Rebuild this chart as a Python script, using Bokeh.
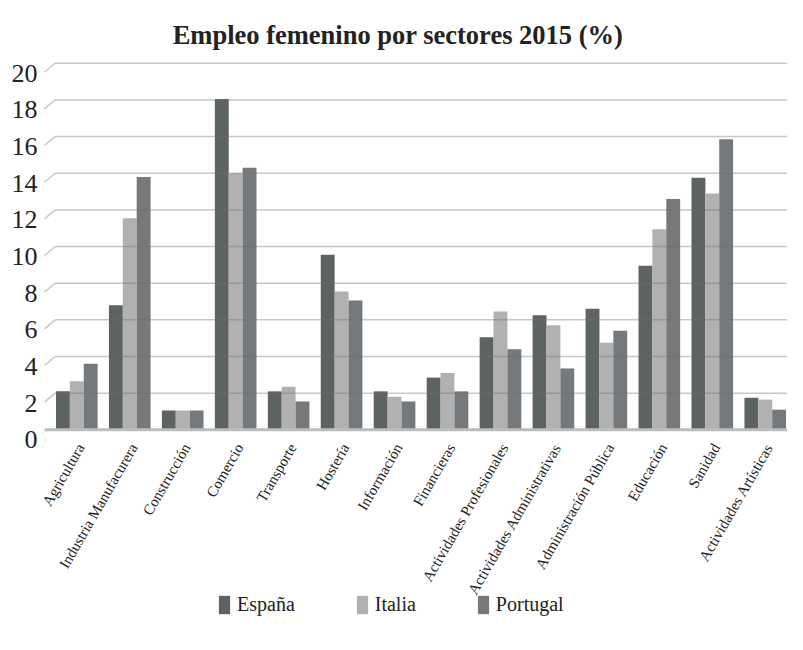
import numpy as np
from math import pi
from bokeh.plotting import figure
from bokeh.models import ColumnDataSource, Range1d, Legend, LegendItem
from bokeh.core.properties import value
from bokeh.transform import dodge
from bokeh.embed import file_html
from bokeh.resources import INLINE

sectores = ["Agricultura", "Industria Manufacurera", "Construcción", "Comercio",
            "Transporte", "Hostería", "Información", "Financieras",
            "Actividades Profesionales", "Actividades Administrativas",
            "Administración Pública", "Educación", "Sanidad", "Actividades Artísticas"]
espana = [2.1, 6.8, 1.05, 18.05, 2.1, 9.55, 2.1, 2.85, 5.05, 6.25, 6.6, 8.95, 13.75, 1.75]
italia = [2.65, 11.55, 1.05, 14.0, 2.35, 7.55, 1.8, 3.1, 6.45, 5.7, 4.75, 10.95, 12.9, 1.65]
portugal = [3.6, 13.8, 1.05, 14.3, 1.55, 7.05, 1.55, 2.1, 4.4, 3.35, 5.4, 12.6, 15.85, 1.1]
yticks = [0, 2, 4, 6, 8, 10, 12, 14, 16, 18, 20]
ytick_labels = [str(t) for t in yticks]

series = [("España", "esp", "#5d6362", -0.262),
          ("Italia", "ita", "#b1b1b1", 0.0),
          ("Portugal", "por", "#75797c", 0.262)]

FONT = "Liberation Serif"
x_start, x_end = -0.61, 13.42          # plotting area (front edge of the floor)
px_per_x = 52.96
frame_w = 779
frame_left = x_start - 36 / px_per_x   # room for the value labels
y_top = 20.15
px_per_unit = 18.33
frame_h = 576
y_bottom = y_top - frame_h / px_per_unit

idx = list(range(len(sectores)))
src = ColumnDataSource(dict(x=idx, esp=espana, ita=italia, por=portugal,
                            name=sectores, zero=[0] * len(idx)))
ysrc = ColumnDataSource(dict(y=yticks, lab=ytick_labels, xs=[x_start] * len(yticks)))

p = figure(frame_width=frame_w, frame_height=frame_h, output_backend="svg", toolbar_location=None,
           x_range=Range1d(frame_left, x_end), y_range=Range1d(y_bottom, y_top),
           min_border_left=8, min_border_right=0, min_border_top=60, min_border_bottom=0)
p.outline_line_color = None
p.background_fill_color = "white"
p.border_fill_color = "white"
p.grid.visible = False
p.axis.visible = False

p.title.text = "Empleo femenino por sectores 2015 (%)"
p.title.align = "center"
p.title.text_font = FONT
p.title.text_font_size = "26.5px"
p.title.text_font_style = "bold"
p.title.text_color = "#222222"
p.title.standoff = 21

items = []
for name, col, color, off in series:
    r = p.vbar(x=dodge("x", off), top=col, width=0.262, bottom=0,
               source=src, fill_color=color, line_color=None)
    items.append(LegendItem(label=name, renderers=[r]))

# gridlines (drawn over the bars) with the small 3D slant at the left
gl = [t for t in yticks if t > 0]
back = -0.41
drop = 0.49
p.segment(x0=[back] * len(gl), y0=gl, x1=[x_end] * len(gl), y1=gl,
          line_color="#6e6e6e", line_alpha=0.38, line_width=1.5)
p.segment(x0=[x_start] * len(gl), y0=[t - drop for t in gl], x1=[back] * len(gl), y1=gl,
          line_color="#6e6e6e", line_alpha=0.38, line_width=1.5)
# baseline (category axis line)
p.segment(x0=[x_start], y0=[0], x1=[x_end], y1=[0], line_color="#bdbdbd", line_width=3)

# value labels
p.text(x="xs", y="y", text="lab", source=ysrc, text_align="right", text_baseline="middle",
       x_offset=-7, y_offset=10, text_font=value(FONT), text_font_size="26px",
       text_color="#222222")

# category labels
p.text(x="x", y="zero", text="name", source=src, angle=pi / 3,
       text_align="right", text_baseline="middle", x_offset=4, y_offset=15,
       text_font=value(FONT), text_font_size="15px", text_color="#222222")

legend = Legend(items=items, orientation="horizontal", location=(209, 20),
                glyph_width=14, glyph_height=23, label_text_font=FONT,
                label_text_font_size="20px", label_text_color="#222222",
                label_standoff=6, spacing=60, border_line_color=None,
                background_fill_alpha=0, padding=0, margin=0)
p.add_layout(legend, "center")

open("out.html", "w").write(file_html(p, INLINE))
